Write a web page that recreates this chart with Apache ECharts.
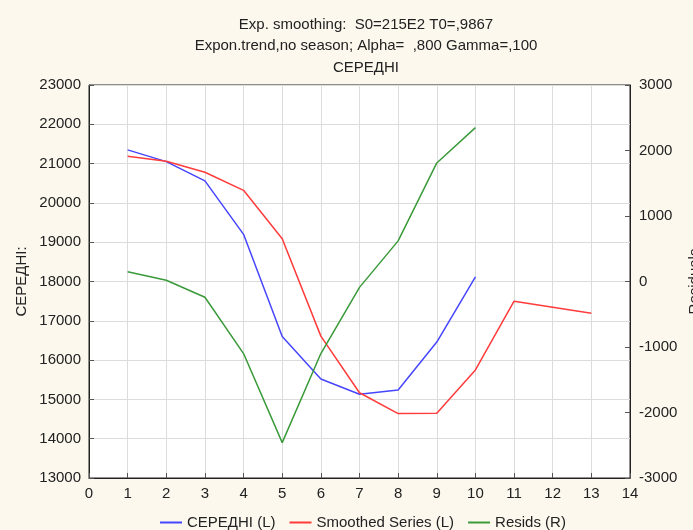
<!DOCTYPE html>
<html>
<head>
<meta charset="utf-8">
<script src="https://cdn.jsdelivr.net/npm/echarts@6/dist/echarts.min.js"></script>
<style>
html,body{margin:0;padding:0;background:#FDF8EE;}
#c{width:693px;height:530px;}
</style>
</head>
<body>
<div id="c"></div>
<script>
var xValues = [1, 2, 3, 4, 5, 6, 7, 8, 9, 10];
var xSmoothed = [1, 2, 3, 4, 5, 6, 7, 8, 9, 10, 11, 12, 13];
var seredni = [21350, 21050, 20560, 19200, 16600, 15520, 15130, 15240, 16460, 18120];
var smoothed = [21190, 21060, 20780, 20320, 19090, 16610, 15170, 14640, 14650, 15750, 17500, 17345, 17190];
var resids = [150, 20, -240, -1100, -2460, -1100, -90, 620, 1810, 2350];
var titleLines = ['Exp. smoothing:  S0=215E2 T0=,9867', 'Expon.trend,no season; Alpha=  ,800 Gamma=,100', 'СЕРЕДНІ'];
var seriesNames = ['СЕРЕДНІ (L)', 'Smoothed Series (L)', 'Resids (R)'];

function pairs(xs, ys) { return ys.map(function (v, i) { return [xs[i], v]; }); }
function plain(v) { return String(v); }

var font = 'Liberation Sans, Arial, sans-serif';
var chart = echarts.init(document.getElementById('c'));
chart.setOption({
  backgroundColor: '#FDF8EE',
  animation: false,
  textStyle: { fontFamily: font },
  title: {
    text: titleLines.join('\n'),
    left: 361, top: 9, textAlign: 'center',
    textStyle: { fontSize: 15, fontWeight: 'normal', color: '#222', lineHeight: 21.5, fontFamily: font }
  },
  legend: {
    top: 510, left: 155,
    itemWidth: 22, itemHeight: 2, itemGap: 14,
    icon: 'rect',
    textStyle: { fontSize: 15, color: '#222', fontFamily: font },
    data: seriesNames
  },
  grid: { left: 89, right: 63, top: 85, bottom: 52, outerBoundsMode: 'none', containLabel: false, show: true, backgroundColor: '#ffffff', borderColor: '#222', borderWidth: 1 },
  xAxis: {
    type: 'value', min: 0, max: 14, interval: 1,
    axisLine: { onZero: false, lineStyle: { color: '#222' } },
    axisTick: { inside: true, length: 5, lineStyle: { color: '#555' } },
    axisLabel: { fontSize: 15, color: '#222', margin: 8, fontFamily: font, formatter: plain },
    splitLine: { show: true, lineStyle: { color: '#dcdcdc', width: 1 } }
  },
  yAxis: [{
    type: 'value', min: 13000, max: 23000, interval: 1000,
    name: 'СЕРЕДНІ:', nameLocation: 'middle', nameGap: 60, nameRotate: 90, nameMoveOverlap: false,
    nameTextStyle: { fontSize: 15, color: '#222', fontFamily: font },
    axisLine: { show: true, onZero: false, lineStyle: { color: '#222' } },
    axisTick: { show: true, inside: true, length: 5, lineStyle: { color: '#555' } },
    axisLabel: { fontSize: 15, color: '#222', margin: 8, fontFamily: font, formatter: plain },
    splitLine: { show: true, lineStyle: { color: '#dcdcdc', width: 1 } }
  }, {
    type: 'value', min: -3000, max: 3000, interval: 1000, position: 'right',
    name: 'Residuals', nameLocation: 'middle', nameGap: 57, nameRotate: 90, nameMoveOverlap: false,
    nameTextStyle: { fontSize: 15, color: '#222', fontFamily: font },
    axisLine: { show: true, onZero: false, lineStyle: { color: '#222' } },
    axisTick: { show: true, inside: true, length: 5, lineStyle: { color: '#555' } },
    axisLabel: { fontSize: 15, color: '#222', margin: 9, fontFamily: font, formatter: plain },
    splitLine: { show: false }
  }],
  series: [{
    name: seriesNames[0], type: 'line', yAxisIndex: 0, showSymbol: false, symbol: 'none',
    data: pairs(xValues, seredni), color: '#4646ff', lineStyle: { width: 1.5, color: '#4646ff' }
  }, {
    name: seriesNames[1], type: 'line', yAxisIndex: 0, showSymbol: false, symbol: 'none',
    data: pairs(xSmoothed, smoothed), color: '#ff3b3b', lineStyle: { width: 1.5, color: '#ff3b3b' }
  }, {
    name: seriesNames[2], type: 'line', yAxisIndex: 1, showSymbol: false, symbol: 'none',
    data: pairs(xValues, resids), color: '#3a9a3a', lineStyle: { width: 1.5, color: '#3a9a3a' }
  }]
});
</script>
</body>
</html>
